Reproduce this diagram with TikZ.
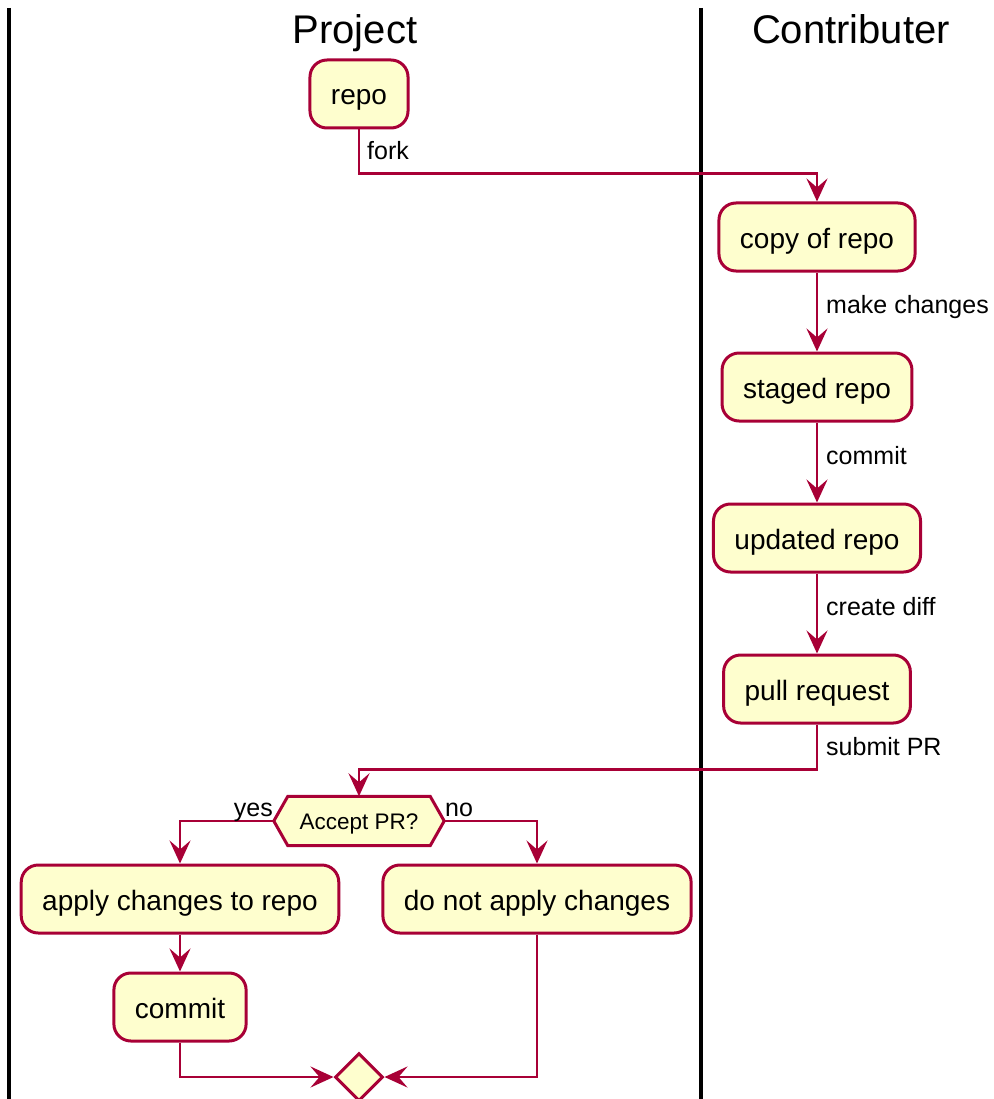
\documentclass[tikz,border=0pt]{standalone}
\usepackage{fontspec}
\setmainfont{Liberation Sans}
\usetikzlibrary{arrows.meta,shapes.geometric,calc}
\definecolor{edgecol}{HTML}{A80036}
\definecolor{boxfill}{HTML}{FEFECE}
\tikzset{
  action/.style={draw=edgecol, fill=boxfill, line width=3pt, rounded corners=17pt,
    minimum height=68pt, inner xsep=21pt, inner ysep=0pt,
    text height=22pt, text depth=0pt,
    font=\fontsize{28}{32}\selectfont},
  flow/.style={draw=edgecol, line width=2.8pt,
    -{Stealth[length=23pt,width=21pt,inset=9pt]}},
  flowlabel/.style={font=\fontsize{25}{29}\selectfont, inner sep=0pt},
  lanetitle/.style={font=\fontsize{40}{46}\selectfont, inner sep=0pt, anchor=base},
  lane/.style={line width=3.2pt, black},
  decisiontext/.style={minimum width=170pt, minimum height=49pt, inner sep=0pt},
  mergepoint/.style={diamond, draw=edgecol, fill=boxfill, line width=3pt,
    minimum width=48pt, minimum height=48pt, inner sep=0pt, aspect=1}
}
\begin{document}
\begin{tikzpicture}[x=1pt,y=-1pt]
\clip (0,0) rectangle (993,1099);
\useasboundingbox (0,0) rectangle (993,1099);

% swimlane borders
\draw[lane] (9,8) -- (9,1110);
\draw[lane] (701,8) -- (701,1110);
\node[lanetitle] (titleproject) at (355,44) {Project};
\node[lanetitle] (titlecontrib) at (851,44) {Contributer};

% actions
\node[action] (repo) at (359,94) {repo};
\node[action] (copy) at (817,237) {copy of repo};
\node[action] (staged) at (817,387) {staged repo};
\node[action] (updated) at (817,538) {updated repo};
\node[action] (pull) at (817,689) {pull request};
\node[action] (apply) at (180,899) {apply changes to repo};
\node[action] (notapply) at (537,899) {do not apply changes};
\node[action] (commit) at (180,1007) {commit};

% decision
\node[decisiontext] (accept) at (359,821) {};
\filldraw[draw=edgecol, fill=boxfill, line width=3pt, line join=miter]
  (accept.west) -- ($(accept.north west)+(14,0)$) -- ($(accept.north east)+(-14,0)$)
  -- (accept.east) -- ($(accept.south east)+(-14,0)$) -- ($(accept.south west)+(14,0)$) -- cycle;
\node[font=\fontsize{22.5}{26}\selectfont, inner sep=0pt, text height=17pt, text depth=0pt]
  (accepttext) at (accept.center) {Accept PR?};

% merge
\node[mergepoint] (merge) at (359,1077) {};

% connectors
\draw[flow] (repo.south) -- ++(0,44) -| (copy.north);
\node[flowlabel, anchor=base west] (lfork) at (367,160) {fork};
\draw[flow] (copy.south) -- (staged.north);
\node[flowlabel, anchor=base west] (lmake) at (826,313) {make changes};
\draw[flow] (staged.south) -- (updated.north);
\node[flowlabel, anchor=base west] (lcommit) at (826,464) {commit};
\draw[flow] (updated.south) -- (pull.north);
\node[flowlabel, anchor=base west] (ldiff) at (826,615) {create diff};
\draw[flow] (pull.south) -- ++(0,45) -| (accept.north);
\node[flowlabel, anchor=base west] (lsubmit) at (826,755) {submit PR};
\draw[flow] (accept.west) -| (apply.north);
\node[flowlabel, anchor=base east] (lyes) at (273,816) {yes};
\draw[flow] (accept.east) -| (notapply.north);
\node[flowlabel, anchor=base west] (lno) at (445,816) {no};
\draw[flow] (apply.south) -- (commit.north);
\draw[flow] (commit.south) |- (merge.west);
\draw[flow] (notapply.south) |- (merge.east);
\end{tikzpicture}
\end{document}
